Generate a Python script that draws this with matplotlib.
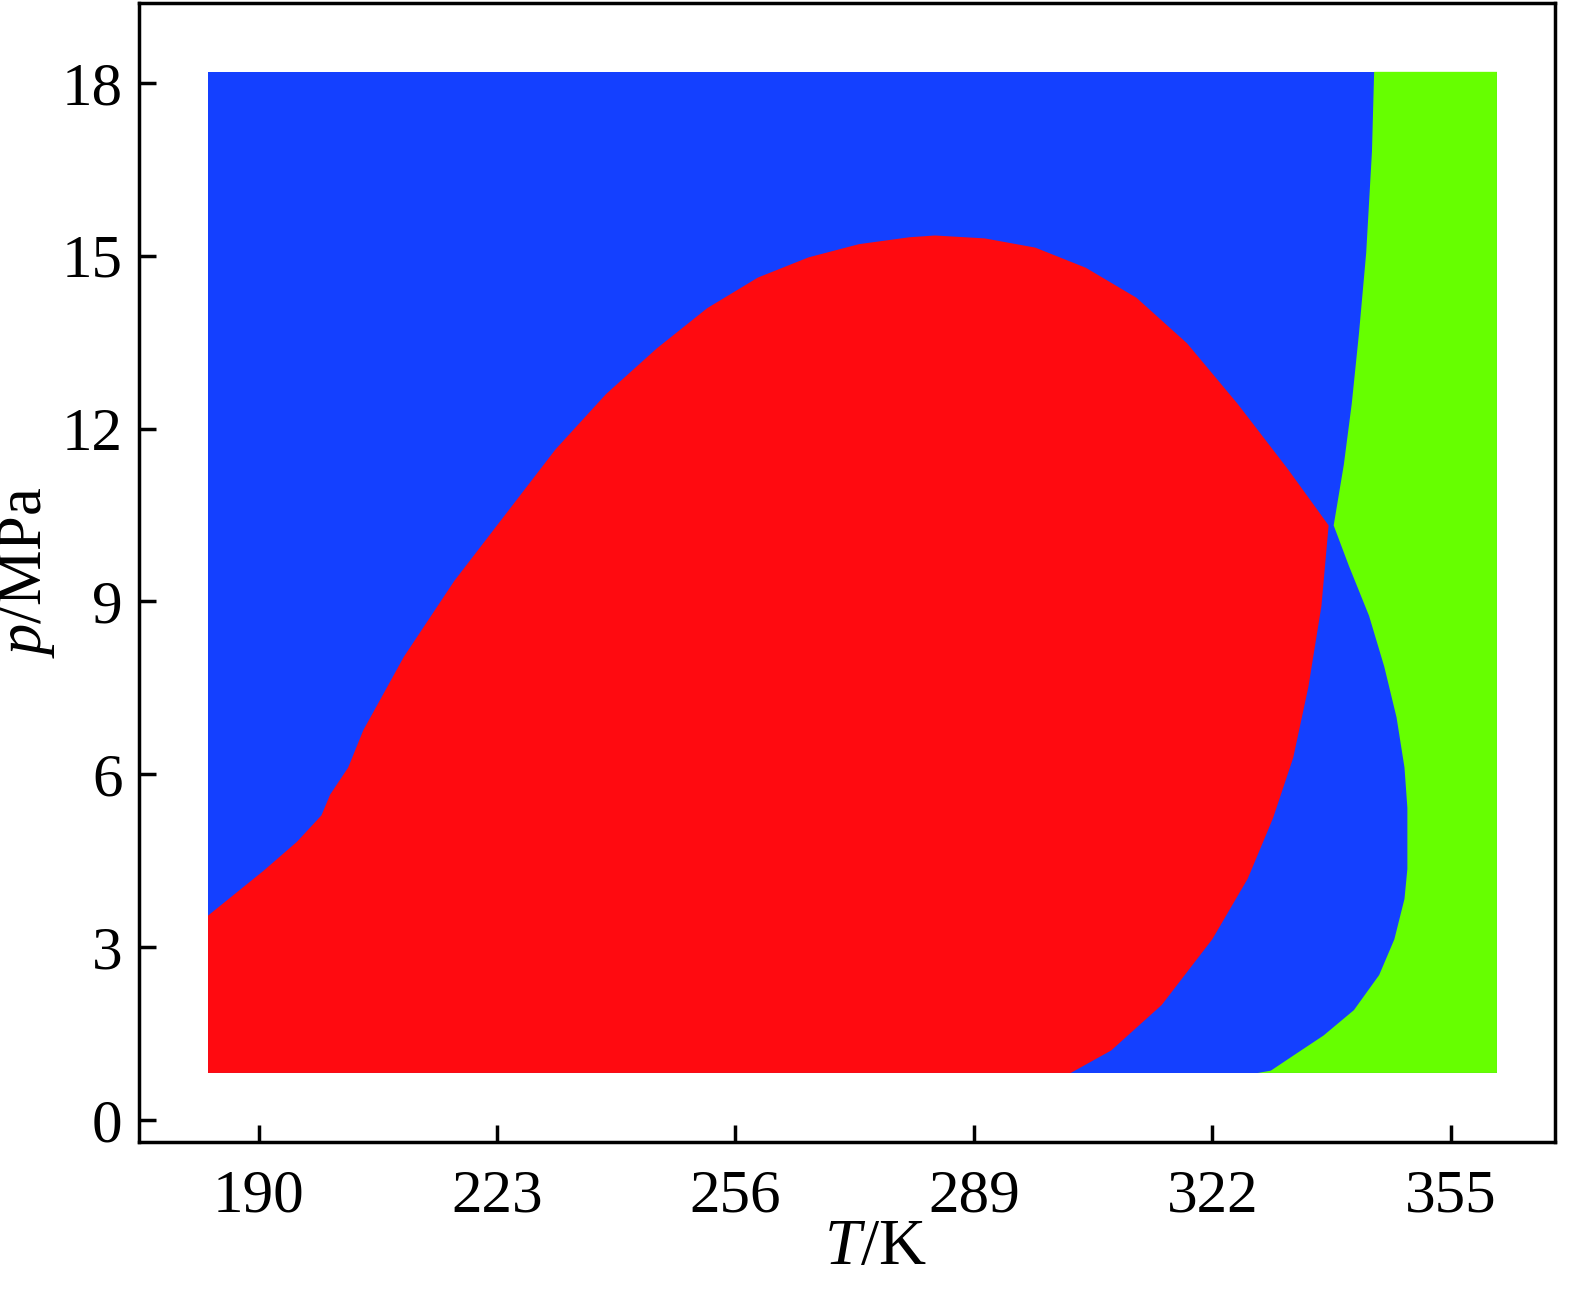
import matplotlib.pyplot as plt

plt.rcParams['font.family'] = ['Liberation Serif', 'DejaVu Serif']
plt.rcParams['mathtext.fontset'] = 'custom'
plt.rcParams['mathtext.it'] = 'Liberation Serif:italic'
plt.rcParams['mathtext.rm'] = 'Liberation Serif'

# calculated domain
T_min, T_max = 183.0, 361.4
p_min, p_max = 0.82, 18.19

# upper boundary of the red region (left to right)
red_top_T = [183.0, 190.7, 195.3, 198.7, 199.9, 202.4, 204.5, 206.8, 210.1, 217.1,
             224.1, 231.1, 238.1, 245.1, 252.1, 259.1, 266.1, 273.1, 280.1, 283.6,
             290.5, 297.5, 304.5, 311.5, 318.5, 325.5, 332.5, 338.1]
red_top_p = [3.55, 4.33, 4.83, 5.29, 5.65, 6.12, 6.77, 7.29, 8.04, 9.36,
             10.50, 11.64, 12.60, 13.39, 14.09, 14.62, 14.97, 15.20, 15.32, 15.35,
             15.30, 15.14, 14.79, 14.27, 13.48, 12.43, 11.29, 10.32]

# right boundary of the red region (top to bottom)
red_right_T = [337.1, 335.3, 333.2, 330.4, 326.9, 322.0, 315.0, 308.0, 302.4]
red_right_p = [8.92, 7.52, 6.29, 5.24, 4.19, 3.14, 2.00, 1.21, 0.82]

# left boundary of the green region (top to bottom)
green_T = [344.4, 344.1, 343.3, 342.3, 341.3, 340.2, 338.8, 340.9, 343.7, 345.8,
           347.5, 348.6, 349.0, 349.0, 348.6, 347.2, 345.1, 341.6, 337.4, 333.2,
           330.1, 328.3]
green_p = [18.19, 16.81, 15.05, 13.65, 12.43, 11.37, 10.32, 9.62, 8.75, 7.87,
           6.99, 6.12, 5.42, 4.36, 3.84, 3.14, 2.52, 1.91, 1.47, 1.12,
           0.86, 0.82]

x_ticks = [190, 223, 256, 289, 322, 355]
y_ticks = [0, 3, 6, 9, 12, 15, 18]

blue = '#1440ff'
red = '#ff0a10'
green = '#66ff00'

fig = plt.figure(figsize=(15.84, 12.95), dpi=100)
ax = fig.add_axes([0.088, 0.1185, 0.894, 0.879])

# background phase
ax.fill([T_min, T_max, T_max, T_min], [p_min, p_min, p_max, p_max],
        color=blue, lw=0)

# green phase: from its left boundary to the right edge
gx = green_T + [T_max, T_max]
gy = green_p + [p_min, p_max]
ax.fill(gx, gy, color=green, lw=0)

# red phase
rx = [T_min] + red_top_T + red_right_T + [T_min]
ry = [p_min] + red_top_p + red_right_p + [p_min]
ax.fill(rx, ry, color=red, lw=0)

ax.set_xlim(173.5, 369.5)
ax.set_ylim(-0.37, 19.38)
ax.set_xticks(x_ticks)
ax.set_yticks(y_ticks)
ax.tick_params(direction='in', length=12, width=2.5, labelsize=44,
               top=False, right=False)
ax.tick_params(axis='x', pad=20)
ax.tick_params(axis='y', pad=12)
for s in ax.spines.values():
    s.set_linewidth(2.5)

ax.set_xlabel(r'$\mathit{T}$/K', fontsize=47)
ax.set_ylabel(r'$\mathit{p}$/MPa', fontsize=45)
ax.xaxis.set_label_coords(0.52, -0.068)
ax.yaxis.set_label_coords(-0.058, 0.5)

fig.savefig('out.png', dpi=100)
